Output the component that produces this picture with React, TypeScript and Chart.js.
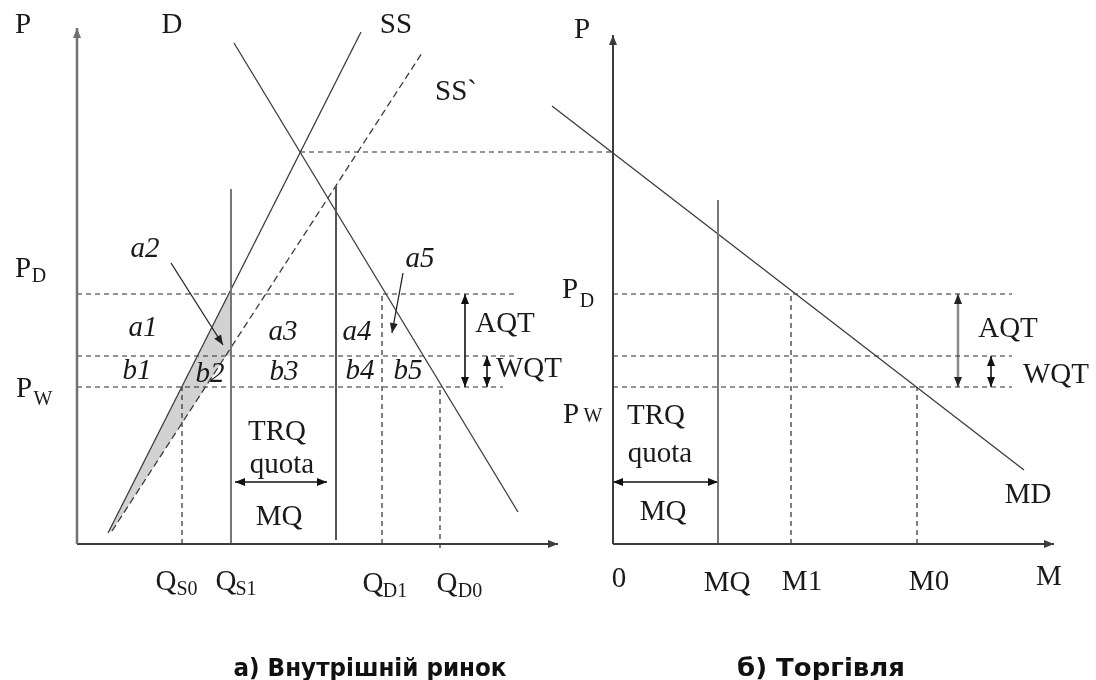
import React, { useEffect, useRef } from "react";
import { Chart, registerables } from "chart.js";

Chart.register(...registerables);

// ---------- DATA (abstract quantity q / price p units) ----------
// price levels shared by both panels
const priceLevels = { PD: 250, PM: 188, PW: 157 };

// a) domestic market
const demandD = [[157, 501], [441, 32]];
const supplySS = [[31, 11], [284, 512]];
const supplySSShifted = [[35, 13], [345, 491]];
const domesticQ = { QS0: 105, QS1: 154, QQ: 259, QD1: 305, QD0: 363 };
const shadedArea = [[31, 11], [152, 250], [154, 250], [154, 188], [149, 188], [35, 13]];
const equilibriumLink = [[223, 392], [536, 392]];

// b) trade
const importDemandMD = [[-61, 438], [411, 74]];
const importQ = { MQ: 105, M1: 178, M0: 304 };

// axis extents
const leftAxisTop = 516;
const leftAxisRight = 481;
const rightAxisTop = 509;
const rightAxisRight = 441;

// ---------- LABELS ----------
// [text, panel, q, p(baseline)]
const serifLabels: [string, string, number, number][] = [
  ["P", "L", -54, 511],
  ["D", "L", 95, 511],
  ["SS", "L", 319, 511],
  ["SS`", "L", 379, 444],
  ["P", "L", -54, 267],
  ["P", "L", -53, 147],
  ["Q", "L", 89, -46],
  ["Q", "L", 149, -46],
  ["Q", "L", 296, -48],
  ["Q", "L", 370, -48],
  ["TRQ", "L", 200, 104],
  ["quota", "L", 205, 71],
  ["MQ", "L", 202, 19],
  ["AQT", "L", 428, 212],
  ["WQT", "L", 452, 167],
  ["P", "R", -31, 506],
  ["P", "R", -43, 246],
  ["P", "R", -42, 121],
  ["TRQ", "R", 43, 120],
  ["quota", "R", 47, 82],
  ["MQ", "R", 50, 24],
  ["AQT", "R", 395, 207],
  ["WQT", "R", 443, 161],
  ["MD", "R", 415, 41],
  ["0", "R", 6, -43],
  ["MQ", "R", 114, -47],
  ["M1", "R", 189, -46],
  ["M0", "R", 316, -46],
  ["M", "R", 436, -41],
];
const subscriptLabels: [string, string, number, number][] = [
  ["D", "L", -38, 262],
  ["W", "L", -34, 139],
  ["S0", "L", 110, -51],
  ["S1", "L", 169, -51],
  ["D1", "L", 318, -53],
  ["D0", "L", 393, -53],
  ["D", "R", -26, 237],
  ["W", "R", -20, 122],
];
const italicLabels: [string, string, number, number][] = [
  ["a2", "L", 68, 287],
  ["a1", "L", 66, 208],
  ["a3", "L", 206, 204],
  ["a4", "L", 280, 204],
  ["a5", "L", 343, 277],
  ["b1", "L", 60, 165],
  ["b2", "L", 133, 162],
  ["b3", "L", 207, 164],
  ["b4", "L", 283, 165],
  ["b5", "L", 331, 165],
];
const captions: [string, string, number, number, number][] = [
  ["а) Внутрішній ринок", "L", 293, -132, 273],
  ["б) Торгівля", "R", 208, -132, 168],
];

// ---------- STYLES ----------
const DARK = "#3c3c3c";
const DASH = "#2a2a2a";
const GRAY = "#777777";
const TEXT = "#1a1a1a";
const SERIF = '"Liberation Serif", "Times New Roman", serif';

const pts = (a: number[][]) => a.map(([x, y]) => ({ x, y }));

function seg(data: number[][], axis: string, color: string, width: number, dash: number[] = [], heads = "") {
  return {
    type: "scatter" as const,
    data: pts(data),
    xAxisID: axis,
    yAxisID: "y",
    showLine: true,
    borderColor: color,
    backgroundColor: color,
    borderWidth: width,
    borderDash: dash,
    pointRadius: 0,
    pointHoverRadius: 0,
    fill: false,
    tension: 0,
    clip: false as any,
    heads,
  };
}

function buildDatasets() {
  const { PD, PM, PW } = priceLevels;
  const dsh = [5, 4];
  const L = "xL";
  const R = "xR";
  return [
    // left panel
    seg([[0, 0], [0, leftAxisTop]], L, "#707070", 2.5, [], "end"),
    seg([[0, 0], [leftAxisRight, 0]], L, DARK, 2, [], "end"),
    seg([[domesticQ.QS1, 0], [domesticQ.QS1, 355]], L, GRAY, 2),
    seg([[domesticQ.QQ, 4], [domesticQ.QQ, 358]], L, "#555555", 2),
    seg(demandD, L, DARK, 1.3),
    seg(supplySS, L, DARK, 1.3),
    seg(supplySSShifted, L, DARK, 1.3, [7, 4]),
    seg([[0, PD], [438, PD]], L, DASH, 1.2, dsh),
    seg([[0, PM], [438, PM]], L, DASH, 1.2, dsh),
    seg([[0, PW], [426, PW]], L, DASH, 1.2, dsh),
    seg([[domesticQ.QS0, 0], [domesticQ.QS0, PW]], L, DASH, 1.2, dsh),
    seg([[domesticQ.QD1, 0], [domesticQ.QD1, PD]], L, DASH, 1.2, dsh),
    seg([[domesticQ.QD0, -4], [domesticQ.QD0, PW]], L, DASH, 1.2, dsh),
    seg(equilibriumLink, L, DASH, 1.2, dsh),
    seg([[388, PW], [388, PD]], L, "#111111", 1.6, [], "both"),
    seg([[410, PW], [410, PM]], L, "#111111", 1.6, [], "both"),
    seg([[158, 62], [domesticQ.QQ - 9, 62]], L, "#111111", 1.6, [], "both"),
    seg([[94, 281], [146, 199]], L, "#222222", 1.3, [], "end"),
    seg([[326, 271], [315, 211]], L, "#222222", 1.3, [], "end"),
    // right panel
    seg([[0, 0], [0, rightAxisTop]], R, DARK, 2, [], "end"),
    seg([[0, 0], [rightAxisRight, 0]], R, DARK, 2, [], "end"),
    seg([[importQ.MQ, 0], [importQ.MQ, 344]], R, GRAY, 2),
    seg(importDemandMD, R, DARK, 1.3),
    seg([[0, PD], [399, PD]], R, DASH, 1.2, dsh),
    seg([[0, PM], [399, PM]], R, DASH, 1.2, dsh),
    seg([[0, PW], [399, PW]], R, DASH, 1.2, dsh),
    seg([[importQ.M1, 0], [importQ.M1, PD]], R, DASH, 1.2, dsh),
    seg([[importQ.M0, 0], [importQ.M0, PW]], R, DASH, 1.2, dsh),
    seg([[345, PW], [345, PD]], R, "#8a8a8a", 2.5, [], "both"),
    seg([[378, PW], [378, PM]], R, "#111111", 1.6, [], "both"),
    seg([[0, 62], [importQ.MQ, 62]], R, "#111111", 1.6, [], "both"),
  ];
}

function drawHead(ctx: CanvasRenderingContext2D, x0: number, y0: number, x1: number, y1: number, color: string) {
  const ang = Math.atan2(y1 - y0, x1 - x0);
  const len = 10;
  const half = 4;
  ctx.save();
  ctx.translate(x1, y1);
  ctx.rotate(ang);
  ctx.beginPath();
  ctx.moveTo(0, 0);
  ctx.lineTo(-len, -half);
  ctx.lineTo(-len, half);
  ctx.closePath();
  ctx.fillStyle = color;
  ctx.fill();
  ctx.restore();
}

const annotationPlugin = {
  id: "diagramAnnotations",
  beforeDraw(chart: any) {
    const ctx = chart.ctx;
    ctx.save();
    ctx.fillStyle = "#ffffff";
    ctx.fillRect(0, 0, chart.width, chart.height);
    ctx.restore();
  },
  beforeDatasetsDraw(chart: any) {
    const ctx = chart.ctx;
    const xs = chart.scales.xL;
    const ys = chart.scales.y;
    ctx.save();
    ctx.beginPath();
    shadedArea.forEach(([q, p], i) => {
      const x = xs.getPixelForValue(q);
      const y = ys.getPixelForValue(p);
      if (i === 0) ctx.moveTo(x, y);
      else ctx.lineTo(x, y);
    });
    ctx.closePath();
    ctx.fillStyle = "#d2d2d2";
    ctx.fill();
    ctx.restore();
  },
  afterDatasetsDraw(chart: any) {
    const ctx: CanvasRenderingContext2D = chart.ctx;
    const ys = chart.scales.y;
    const sx = (panel: string) => (panel === "L" ? chart.scales.xL : chart.scales.xR);

    chart.data.datasets.forEach((ds: any) => {
      if (!ds.heads) return;
      const xsc = chart.scales[ds.xAxisID];
      const a = ds.data[0];
      const b = ds.data[ds.data.length - 1];
      const ax = xsc.getPixelForValue(a.x), ay = ys.getPixelForValue(a.y);
      const bx = xsc.getPixelForValue(b.x), by = ys.getPixelForValue(b.y);
      const hc = ds.borderColor === "#8a8a8a" ? "#222" : ds.borderColor;
      drawHead(ctx, ax, ay, bx, by, hc);
      if (ds.heads === "both") drawHead(ctx, bx, by, ax, ay, hc);
    });

    ctx.save();
    ctx.fillStyle = TEXT;
    ctx.textAlign = "center";
    ctx.textBaseline = "alphabetic";
    const put = (list: [string, string, number, number][], font: string) => {
      ctx.font = font;
      list.forEach(([t, panel, q, p]) => {
        ctx.fillText(t, sx(panel).getPixelForValue(q), ys.getPixelForValue(p));
      });
    };
    put(serifLabels, `29px ${SERIF}`);
    put(subscriptLabels, `20px ${SERIF}`);
    put(italicLabels, `italic 29px ${SERIF}`);

    ctx.fillStyle = "#111";
    ctx.font = 'bold 24px "Liberation Sans Narrow", "DejaVu Sans Condensed", "DejaVu Sans", sans-serif';
    captions.forEach(([t, panel, q, p, w]) => {
      const cx = sx(panel).getPixelForValue(q);
      const cy = ys.getPixelForValue(p);
      const mw = ctx.measureText(t).width;
      ctx.save();
      ctx.translate(cx, cy);
      ctx.scale(w / mw, 1);
      ctx.fillText(t, 0, 0);
      ctx.restore();
    });
    ctx.restore();
  },
};

export default function App() {
  const canvasRef = useRef<HTMLCanvasElement | null>(null);
  useEffect(() => {
    if (!canvasRef.current) return;
    const chart = new Chart(canvasRef.current, {
      type: "scatter",
      data: { datasets: buildDatasets() as any },
      options: {
        animation: false,
        responsive: false,
        devicePixelRatio: 1,
        events: [],
        layout: { padding: 0 },
        plugins: {
          legend: { display: false },
          tooltip: { enabled: false },
          title: { display: false },
        },
        scales: {
          xL: { type: "linear", display: false, min: -77, max: 1019 },
          xR: { type: "linear", display: false, min: -613, max: 483 },
          y: { type: "linear", display: false, min: -136, max: 544 },
        },
      } as any,
      plugins: [annotationPlugin as any],
    });
    return () => chart.destroy();
  }, []);
  return (
    <div style={{ position: "fixed", left: 0, top: 0, width: 1096, height: 680, background: "#fff" }}>
      <canvas ref={canvasRef} width={1096} height={680} style={{ display: "block" }} />
    </div>
  );
}
